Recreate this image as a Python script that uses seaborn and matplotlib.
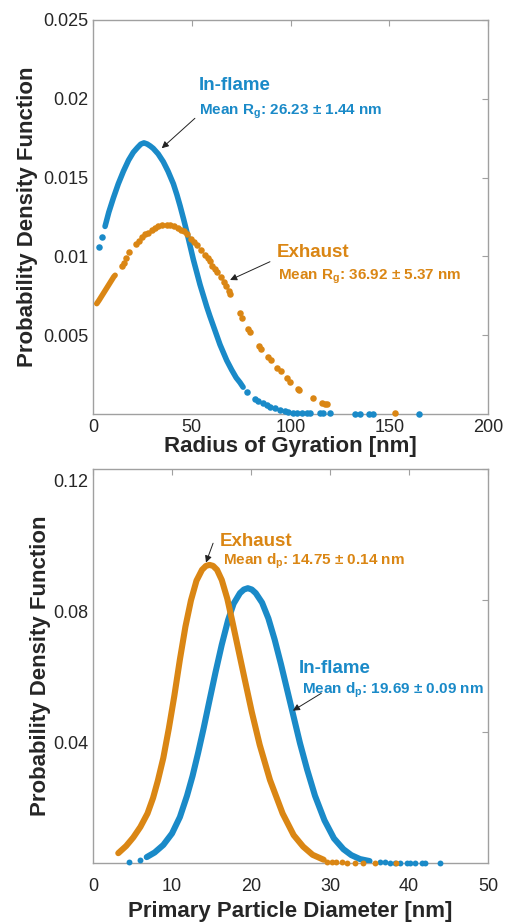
import numpy as np
import pandas as pd
import seaborn as sns
import matplotlib
import matplotlib.pyplot as plt
import matplotlib.transforms as mtransforms

sns.set_style('white')
plt.rcParams['font.family'] = ['Liberation Sans', 'DejaVu Sans']
plt.rcParams['mathtext.fontset'] = 'custom'
plt.rcParams['mathtext.rm'] = 'Liberation Sans:bold'
plt.rcParams['mathtext.it'] = 'Liberation Sans:bold'
plt.rcParams['mathtext.bf'] = 'Liberation Sans:bold'

BLUE = '#1A8AC8'
ORANGE = '#DA8614'

# ---- radius of gyration (top panel) ----
rg_flame_x = [6.1, 8.0, 10.3, 12.8, 15.4, 18.0, 20.4, 22.5, 24.2, 25.8, 27.4, 29.0,
              30.5, 33.0, 35.6, 38.0, 40.7, 42.5, 44.1, 46.0, 47.4, 49.1, 50.8, 52.5,
              54.2, 55.9, 57.6, 59.2, 60.9, 62.6, 64.3, 66.0, 67.7, 70.2, 72.5, 74.4, 76.0]
rg_flame_pdf = [0.0119, 0.0128, 0.0137, 0.0146, 0.0154, 0.0161, 0.0166, 0.0169, 0.01712,
                0.0172, 0.01713, 0.0170, 0.01685, 0.0165, 0.0160, 0.0154, 0.0146, 0.0139,
                0.0132, 0.0123, 0.0116, 0.0107, 0.0098, 0.0090, 0.0082, 0.0075, 0.0068,
                0.0062, 0.0056, 0.0050, 0.0044, 0.0039, 0.0034, 0.0028, 0.0023, 0.0020,
                0.0017]
rg_flame_dots_x = [3.2, 4.7, 77.8, 82.0, 83.7, 86.2, 87.9, 89.6, 92.2, 94.7, 97.2, 98.9,
                   101.4, 103.1, 105.7, 108.2, 109.9, 114.9, 116.6, 120.0, 132.7, 135.2,
                   139.9, 141.9, 165.2]
rg_flame_dots_pdf = [0.0106, 0.0112, 0.00142, 0.00095, 0.00085, 0.00068, 0.00057, 0.00046,
                     0.00036, 0.00025, 0.00019, 0.00015, 0.00008, 0.00006, 0.00004, 0.00004,
                     0.00004, 0.00003, 0.00003, 0.00003, 0.00002, 0.00002, 0.00002, 0.00002,
                     0.00001]

rg_exh_x = [1.9, 3.0, 4.5, 6.0, 7.5, 9.0, 10.5, 11.2]
rg_exh_pdf = [0.0070, 0.0072, 0.0075, 0.0078, 0.0081, 0.0084, 0.0087, 0.0088]
rg_exh_dots_x = [14.5, 15.5, 16.8, 18.4, 22.0, 23.5, 25.0, 26.5, 28.0, 30.0, 31.5, 33.0,
                 35.0, 37.5, 39.0, 41.0, 43.0, 44.5, 46.0, 47.5, 49.5, 51.0, 52.5, 54.5,
                 56.5, 58.0, 59.0, 60.5, 62.0, 63.0, 64.7, 66.3, 67.5, 68.7, 69.4, 74.4,
                 75.6, 78.6, 79.5, 84.2, 85.2, 88.8, 90.0, 93.0, 95.0, 98.1, 99.7, 103.6,
                 104.5, 111.5, 116.0, 117.5, 118.5, 152.9]
rg_exh_dots_pdf = [0.0094, 0.0096, 0.0099, 0.0103, 0.0108, 0.0110, 0.0112, 0.0114, 0.0115,
                   0.0117, 0.0118, 0.0119, 0.0120, 0.0120, 0.0120, 0.0119, 0.0118, 0.0117,
                   0.0116, 0.0114, 0.0111, 0.0109, 0.0107, 0.0104, 0.0101, 0.0099, 0.0097,
                   0.0094, 0.0092, 0.0090, 0.0087, 0.0084, 0.0081, 0.0078, 0.0076, 0.0064,
                   0.0061, 0.0054, 0.0052, 0.0043, 0.0041, 0.0036, 0.0034, 0.0029, 0.0027,
                   0.0023, 0.0020, 0.0016, 0.00155, 0.0010, 0.00068, 0.00062, 0.0006, 0.00004]

# ---- primary particle diameter (bottom panel) ----
dp_flame_x = [6.8, 7.8, 8.9, 10.0, 11.0, 11.9, 12.6, 13.3, 14.0, 14.7, 15.5, 16.3, 17.1,
              17.8, 18.6, 19.1, 19.6, 20.1, 20.6, 21.4, 22.2, 23.0, 23.8, 24.6, 25.4,
              26.2, 27.1, 28.1, 29.3, 30.5, 31.7, 32.7, 33.8, 35.0]
dp_flame_pdf = [0.0018, 0.0032, 0.0055, 0.0090, 0.0140, 0.0205, 0.0265, 0.0335, 0.0410,
                0.0490, 0.0580, 0.0665, 0.0740, 0.0790, 0.0822, 0.0833, 0.0837, 0.0833,
                0.0822, 0.0793, 0.0745, 0.0680, 0.0605, 0.0525, 0.0445, 0.0365, 0.0285,
                0.0205, 0.0130, 0.0075, 0.0042, 0.0024, 0.0012, 0.0006]
dp_flame_dots_x = [4.5, 5.9, 36.3, 37.0, 37.6, 38.2, 38.9, 39.7, 40.1, 40.8, 41.6, 42.0, 43.9]
dp_flame_dots_pdf = [0.0004, 0.0010, 0.0002, 0.0002, 0.0001, 0.0001, 0.0001, 0.0001,
                     0.0001, 0.0001, 0.0001, 0.0001, 0.0001]

dp_exh_x = [3.2, 4.2, 5.1, 6.0, 6.9, 7.6, 8.2, 8.9, 9.6, 10.3, 11.0, 11.7, 12.4, 13.1,
            13.8, 14.3, 14.75, 15.2, 15.7, 16.3, 17.0, 17.6, 18.4, 19.2, 20.1, 21.1,
            22.4, 24.0, 25.4, 26.6, 27.8, 29.2]
dp_exh_pdf = [0.0030, 0.0052, 0.0078, 0.0110, 0.0151, 0.0198, 0.0250, 0.0320, 0.0410,
              0.0510, 0.0620, 0.0720, 0.0800, 0.0860, 0.0893, 0.0905, 0.0908, 0.0905,
              0.0893, 0.0862, 0.0805, 0.0740, 0.0650, 0.0560, 0.0460, 0.0360, 0.0253,
              0.0151, 0.0085, 0.0050, 0.0025, 0.0010]
dp_exh_dots_x = [29.6, 30.2, 30.8, 31.5, 32.1, 33.2, 34.2, 35.7, 38.4]
dp_exh_dots_pdf = [0.0003, 0.0002, 0.0002, 0.0002, 0.0001, 0.0001, 0.0001, 0.0001, 0.0001]

fig = plt.figure(figsize=(5.11, 9.24), dpi=100)
ax1 = fig.add_axes([0.182, 0.552, 0.773, 0.4264])
ax2 = fig.add_axes([0.182, 0.066, 0.773, 0.4264])


def curve(ax, x, y, dx, dy, color, lw, s):
    sns.lineplot(x=x, y=y, ax=ax, color=color, linewidth=lw, sort=False,
                 estimator=None, solid_capstyle='round', solid_joinstyle='round',
                 zorder=3)
    sns.scatterplot(x=dx, y=dy, ax=ax, color=color, s=s, linewidth=0,
                    clip_on=False, zorder=3)


curve(ax1, rg_flame_x, rg_flame_pdf, rg_flame_dots_x, rg_flame_dots_pdf, BLUE, 4.0, 22)
curve(ax1, rg_exh_x, rg_exh_pdf, rg_exh_dots_x, rg_exh_dots_pdf, ORANGE, 4.0, 22)
curve(ax2, dp_flame_x, dp_flame_pdf, dp_flame_dots_x, dp_flame_dots_pdf, BLUE, 4.4, 18)
curve(ax2, dp_exh_x, dp_exh_pdf, dp_exh_dots_x, dp_exh_dots_pdf, ORANGE, 4.4, 18)

for ax in (ax1, ax2):
    for sp in ax.spines.values():
        sp.set_color('#a0a0a0')
        sp.set_linewidth(1.0)
    ax.tick_params(direction='in', length=4, width=0.8, color='#a0a0a0',
                   labelsize=13, labelcolor='#262626', top=True, right=True)

ax1.set_xlim(0, 200)
ax1.set_ylim(0, 0.025)
ax1.set_xticks([0, 50, 100, 150, 200])
ax1.set_yticks([0.005, 0.01, 0.015, 0.02, 0.025])
ax1.set_yticklabels(['0.005', '0.01', '0.015', '0.02', '0.025'])
ax1.set_xlabel('Radius of Gyration [nm]', fontsize=16, fontweight='bold', va='center')
ax1.set_ylabel('Probability Density Function', fontsize=16, fontweight='bold', va='center')
ax1.xaxis.set_label_coords(0.5, -0.083)
ax1.yaxis.set_label_coords(-0.165, 0.5)

ax2.set_xlim(0, 50)
ax2.set_ylim(0, 0.12)
ax2.set_xticks([0, 10, 20, 30, 40, 50])
ax2.set_yticks([0.04, 0.08, 0.12])
ax2.set_yticklabels(['0.04', '0.08', '0.12'])
ax2.tick_params(axis='x', pad=11)
ax2.set_xlabel('Primary Particle Diameter [nm]', fontsize=16, fontweight='bold', va='center')
ax2.set_ylabel('Probability Density Function', fontsize=16, fontweight='bold', va='center')
ax2.xaxis.set_label_coords(0.5, -0.124)
ax2.yaxis.set_label_coords(-0.134, 0.5)
off = mtransforms.ScaledTranslation(0, -8 / 72, fig.dpi_scale_trans)
for lab in ax2.get_yticklabels():
    lab.set_transform(lab.get_transform() + off)

arrow = dict(arrowstyle='-|>', color='#222222', lw=0.7, mutation_scale=10,
             shrinkA=0, shrinkB=0)

# annotations, top
ax1.text(53.7, 0.02056, 'In-flame', color=BLUE, fontsize=13.5, fontweight='bold')
ax1.text(53.7, 0.01897, 'Mean R$_{g}$: 26.23 ± 1.44 nm', color=BLUE, fontsize=11,
         fontweight='bold')
ax1.annotate('', xy=(34.8, 0.01686), xytext=(51.6, 0.01876), arrowprops=arrow)
ax1.text(93.0, 0.00998, 'Exhaust', color=ORANGE, fontsize=13.5, fontweight='bold')
ax1.text(93.8, 0.0085, 'Mean R$_{g}$: 36.92 ± 5.37 nm', color=ORANGE, fontsize=11,
         fontweight='bold')
ax1.annotate('', xy=(69.4, 0.0085), xytext=(89.6, 0.00966), arrowprops=arrow)

# annotations, bottom
ax2.text(16.08, 0.0966, 'Exhaust', color=ORANGE, fontsize=13.5, fontweight='bold')
ax2.text(16.4, 0.0908, 'Mean d$_{p}$: 14.75 ± 0.14 nm', color=ORANGE, fontsize=11,
         fontweight='bold')
ax2.annotate('', xy=(14.3, 0.0915), xytext=(15.2, 0.0974), arrowprops=arrow)
ax2.text(26.0, 0.058, 'In-flame', color=BLUE, fontsize=13.5, fontweight='bold')
ax2.text(26.4, 0.0517, 'Mean d$_{p}$: 19.69 ± 0.09 nm', color=BLUE, fontsize=11,
         fontweight='bold')
ax2.annotate('', xy=(25.3, 0.0464), xytext=(28.9, 0.0517), arrowprops=arrow)

fig.savefig('out.png', dpi=100)
